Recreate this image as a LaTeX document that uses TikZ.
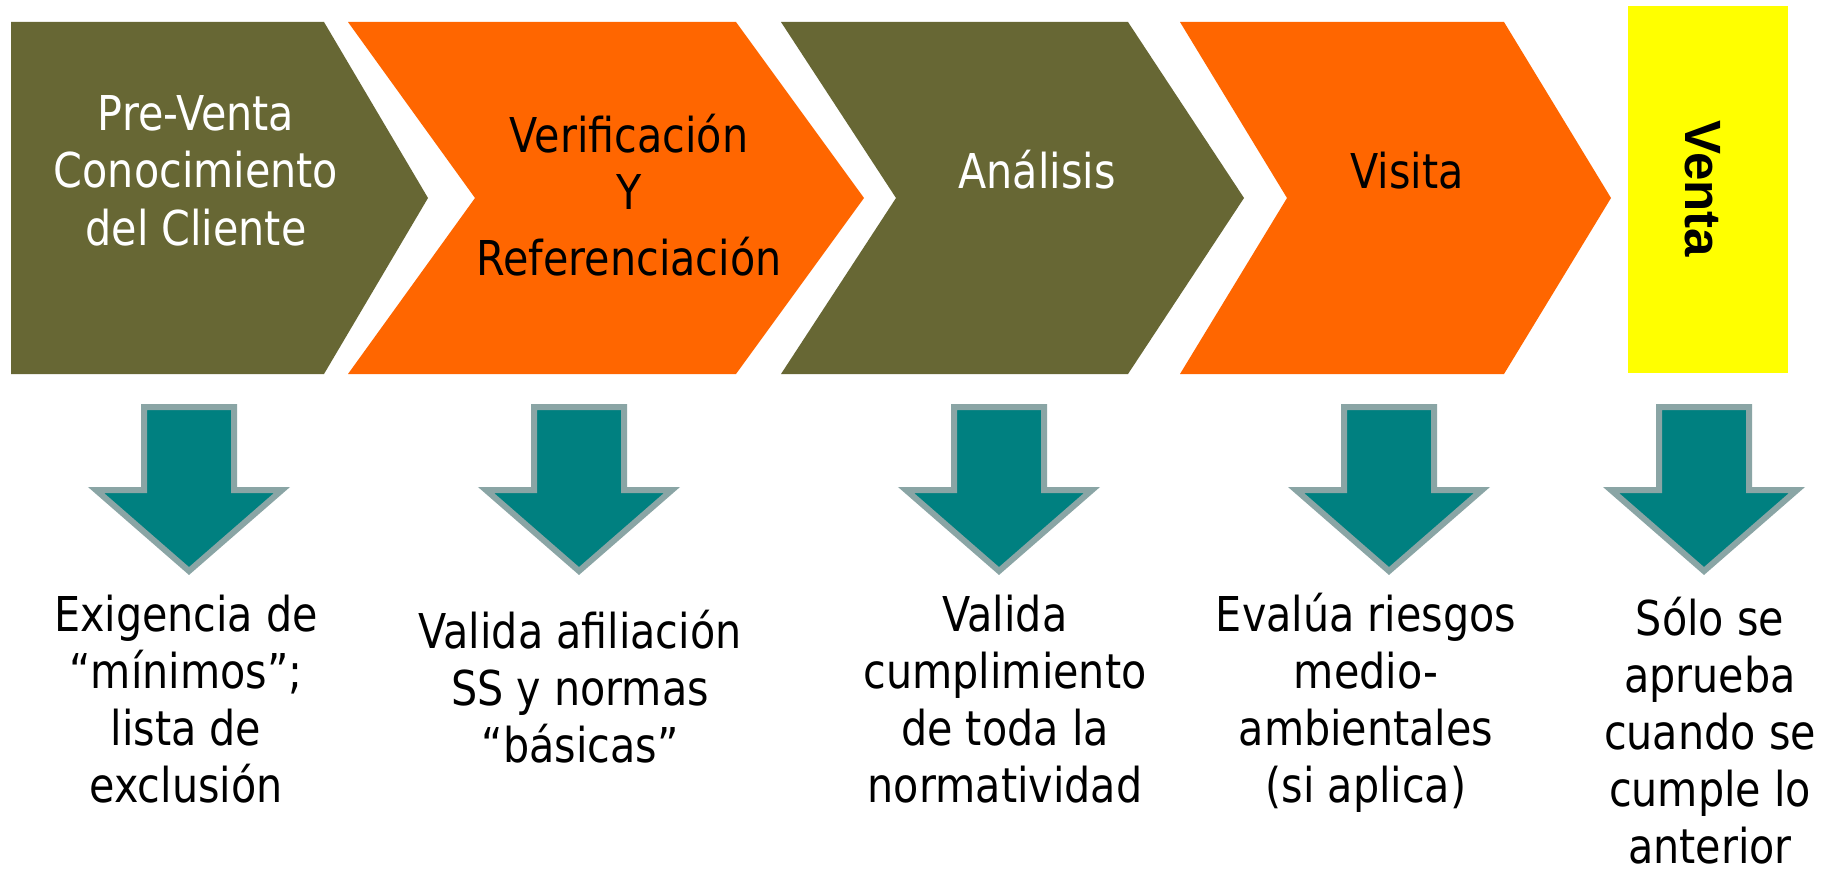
\documentclass[tikz,border=0pt]{standalone}
\usepackage{fontspec}
\setmainfont{DejaVu Sans}[FakeStretch=0.86]
\newfontfamily\ventafont{Liberation Sans}
\definecolor{oliveC}{RGB}{103,103,52}
\definecolor{orangeC}{RGB}{255,102,0}
\definecolor{yellowC}{RGB}{255,255,0}
\definecolor{tealF}{RGB}{0,128,128}
\definecolor{tealB}{RGB}{138,165,165}
\tikzset{
  arrowbox/.style={fill=tealF, draw=tealB, line width=6pt, line join=miter},
  lbl/.style={align=center, font=\fontsize{48}{57.5}\selectfont, inner sep=0pt, anchor=base},
  sublbl/.style={align=center, font=\fontsize{48}{57}\selectfont, inner sep=0pt, anchor=base, text=black}
}
\newcommand\blockarrow[1]{\draw[arrowbox] ({#1-45},407) -- ({#1+45},407) -- ({#1+45},490) -- ({#1+93},490) -- (#1,571) -- ({#1-93},490) -- ({#1-45},490) -- cycle;}
\begin{document}
\begin{tikzpicture}[x=1pt,y=-1pt]
\useasboundingbox[fill=white] (0,0) rectangle (1837,872);
% chevrons
\fill[oliveC] (11,22) -- (324,22) -- (428,198) -- (324,374) -- (11,374) -- cycle;
\fill[orangeC] (348,22) -- (736,22) -- (864,198) -- (736,374) -- (348,374) -- (475,198) -- cycle;
\fill[oliveC] (781,22) -- (1128,22) -- (1244,198) -- (1128,374) -- (781,374) -- (896,198) -- cycle;
\fill[orangeC] (1180,22) -- (1504,22) -- (1611,198) -- (1504,374) -- (1180,374) -- (1287,198) -- cycle;
\fill[yellowC] (1628,6) rectangle (1788,373);
% chevron labels (anchor = baseline of last line)
\node[lbl, text=white] (t1) at (196,245) {Pre-Venta\\Conocimiento\\del Cliente};
\node[lbl, text=black] (t2) at (629,275) {Verificación\\Y\\[8pt]Referenciación};
\node[lbl, text=white] (t3) at (1037,188) {Análisis};
\node[lbl, text=black] (t4) at (1407,188) {Visita};
\node[rotate=-90, inner sep=0pt, font=\ventafont\bfseries\fontsize{51}{60}\selectfont] (t5) at (1703,189) {Venta};
% block arrows
\blockarrow{189}
\blockarrow{579}
\blockarrow{999}
\blockarrow{1389}
\blockarrow{1704}
% bottom labels (anchor = baseline of last line)
\node[sublbl] (b1) at (186,802) {Exigencia de\\“mínimos”;\\lista de\\exclusión};
\node[sublbl] (b2) at (580,762) {Valida afiliación\\SS y normas\\“básicas”};
\node[sublbl] (b3) at (1005,802) {Valida\\cumplimiento\\de toda la\\normatividad};
\node[sublbl] (b4) at (1366,802) {Evalúa riesgos\\medio-\\ambientales\\(si aplica)};
\node[sublbl] (b5) at (1710,863) {Sólo se\\aprueba\\cuando se\\cumple lo\\anterior};
\end{tikzpicture}
\end{document}
